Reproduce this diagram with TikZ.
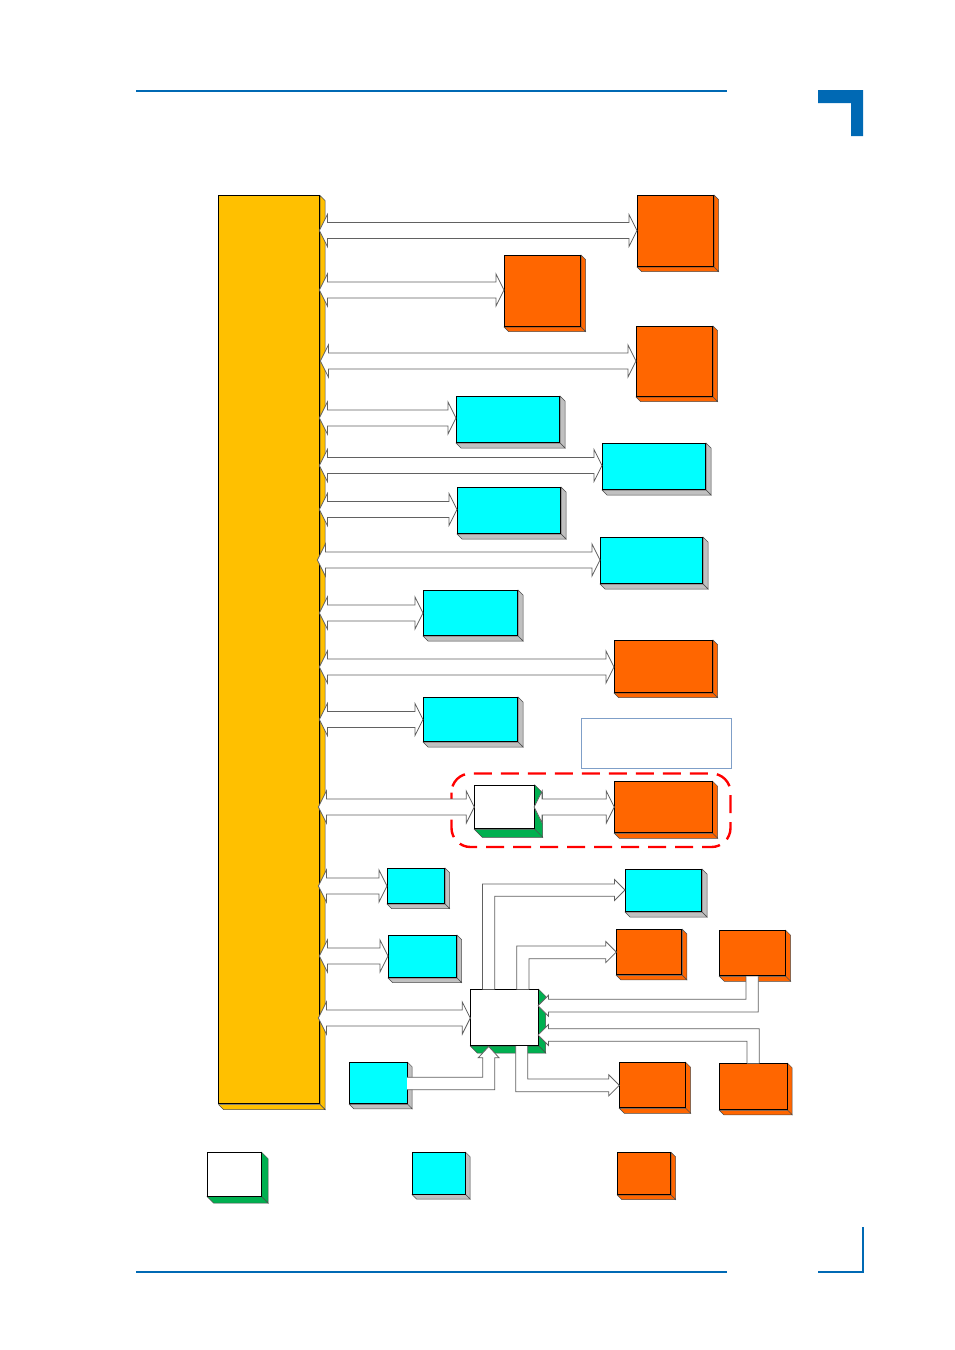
\documentclass[tikz,border=0pt]{standalone}
\usetikzlibrary{calc}
\definecolor{rulec}{HTML}{0069B4}
\definecolor{gold}{HTML}{FFC000}
\definecolor{aqua}{HTML}{00FFFF}
\definecolor{orng}{HTML}{FF6600}
\definecolor{grn}{HTML}{00B050}
\definecolor{gry}{HTML}{C0C0C0}
\definecolor{notec}{HTML}{7F9FC8}
\tikzset{
  face/.style={draw=black,line width=0.9pt,inner sep=0pt,outer sep=0pt,anchor=north west},
  shade edge/.style={draw=black!70,line width=0.5pt},
  blockline/.style={draw=black!62,line width=0.8pt,line join=miter},
  rulestyle/.style={draw=rulec,line width=1.5pt},
}
% name, x1,y1,x2,y2, depth, face colour, side colour
\newcommand\cube[8]{%
  \pgfmathsetmacro\cw{#4-(#2)-0.6}\pgfmathsetmacro\ch{#5-(#3)-0.6}%
  \draw[shade edge,fill=#8] (#4,#3) -- ++(#6,#6) -- ($(#4,#5)+(#6,#6)$) -- (#4,#5) -- cycle;
  \draw[shade edge,fill=#8] (#2,#5) -- ++(#6,#6) -- ($(#4,#5)+(#6,#6)$) -- (#4,#5) -- cycle;
  \node[face,fill=#7,minimum width=\cw pt,minimum height=\ch pt] (#1) at (#2,#3) {};
}
% double block arrow between node east (with x offset) and node west at height y
\newcommand\dbl[4]{%
  \coordinate (A) at ($(#1.east |- 0,#3)+(#4,0)$);
  \coordinate (B) at (#2.west |- 0,#3);
  \filldraw[blockline,fill=white] (A) -- ($(A)+(8,-16)$) -- ($(A)+(8,-8)$) -- ($(B)+(-8,-8)$) -- ($(B)+(-8,-16)$) -- (B)
    -- ($(B)+(-8,16)$) -- ($(B)+(-8,8)$) -- ($(A)+(8,8)$) -- ($(A)+(8,16)$) -- cycle;
}
\begin{document}
\begin{tikzpicture}[x=1pt,y=-1pt]
\useasboundingbox (0,0) rectangle (954,1350);
% page furniture
\draw[rulestyle] (136,91) -- (727,91);
\draw[rulestyle] (136,1272) -- (727,1272);
\fill[rulec] (818,90) -- (863,90) -- (863,136) -- (851,136) -- (851,103) -- (818,103) -- cycle;
\draw[rulestyle] (818,1272) -- (863,1272) -- (863,1227);
% boxes
\cube{bus}{218.5}{195.5}{320}{1104.5}{5}{gold}{gold}
\cube{oa}{637}{195}{714}{267}{4.5}{orng}{orng}
\cube{ob}{504}{255}{581}{327}{4.5}{orng}{orng}
\cube{oc}{636}{326}{713}{397}{4.5}{orng}{orng}
\cube{ca}{456}{396}{560}{443}{5}{aqua}{gry}
\cube{cb}{602}{443}{706}{490}{5}{aqua}{gry}
\cube{cc}{457}{487}{561}{534}{5}{aqua}{gry}
\cube{cd}{600}{537}{703}{584}{5}{aqua}{gry}
\cube{ce}{423}{590}{518}{636}{5}{aqua}{gry}
\cube{od}{614}{640}{713}{693}{4.5}{orng}{orng}
\cube{cf}{423}{697}{518}{742}{5}{aqua}{gry}
\cube{wa}{474.3}{785}{534.7}{829.3}{8}{white}{grn}
\cube{oe}{614.3}{781.3}{712.7}{833.3}{5}{orng}{orng}
\cube{cg}{387}{868}{445}{904}{4.5}{aqua}{gry}
\cube{ch}{388}{935}{457}{978}{4.5}{aqua}{gry}
\cube{ci}{625}{869}{702}{912}{5}{aqua}{gry}
\cube{of}{616.3}{929.3}{682.3}{975.3}{4.5}{orng}{orng}
\cube{og}{719.3}{930.3}{785.7}{976.3}{5}{orng}{orng}
\cube{oh}{619.3}{1062.3}{685.7}{1108.3}{5}{orng}{orng}
\cube{oi}{719.3}{1063.3}{787.7}{1110.3}{4.5}{orng}{orng}
\cube{cj}{349.3}{1062.3}{407.7}{1104.3}{4.5}{aqua}{gry}
\cube{hub}{470.3}{989.3}{538.7}{1046}{7}{white}{grn}
\cube{lw}{207.3}{1152.3}{261.7}{1196.7}{6.5}{white}{grn}
\cube{lc}{412.3}{1152.3}{465.7}{1194.7}{4.5}{aqua}{gry}
\cube{lo}{617.3}{1152.3}{671}{1195}{4.5}{orng}{orng}
% note and group outline
\node[draw=notec,line width=0.8pt,fill=white,minimum width=150pt,minimum height=50pt,inner sep=0pt,anchor=north west] (note) at (581,718) {};
\draw[red,line width=2.4pt,dash pattern=on 18pt off 9pt,rounded corners=19pt] (451.5,773.5) rectangle (730.5,847);
% bus arrows
\dbl{bus}{oa}{230.5}{0}
\dbl{bus}{ob}{290}{0}
\dbl{bus}{oc}{361}{1}
\dbl{bus}{ca}{418}{0}
\dbl{bus}{cb}{465.5}{0}
\dbl{bus}{cc}{509.5}{0}
\dbl{bus}{cd}{560}{-2}
\dbl{bus}{ce}{613}{0}
\dbl{bus}{od}{667}{0}
\dbl{bus}{cf}{719.5}{0}
\dbl{bus}{wa}{807}{-1}
\dbl{wa}{oe}{807}{0}
\dbl{bus}{cg}{886}{-1}
\dbl{bus}{ch}{956}{0}
\dbl{bus}{hub}{1018}{-1}
% hub to aqua box
\coordinate (t) at (ci.west |- 0,890);
\filldraw[blockline,fill=white] (482.5,989.3) -- (482.5,884) -- ($(t)+(-10.5,-6)$) -- ($(t)+(-10.5,-10.5)$) -- (t) -- ($(t)+(-10.5,10.5)$) -- ($(t)+(-10.5,6.3)$) -- (494.7,896.3) -- (494.7,989.3);
% hub to orange above
\coordinate (t) at (of.west |- 0,952);
\filldraw[blockline,fill=white] (516.7,989.3) -- (516.7,946) -- ($(t)+(-10.5,-6)$) -- ($(t)+(-10.5,-10.5)$) -- (t) -- ($(t)+(-10.5,10.5)$) -- ($(t)+(-10.5,6.7)$) -- (529,958.7) -- (529,989.3);
% hub to orange below
\coordinate (t) at (oh.west |- 0,1085.3);
\filldraw[blockline,fill=white] (515.7,1046) -- (515.7,1091.7) -- ($(t)+(-10.5,6.4)$) -- ($(t)+(-10.5,10.5)$) -- (t) -- ($(t)+(-10.5,-10.5)$) -- ($(t)+(-10.5,-6.3)$) -- (527.7,1079) -- (527.7,1046);
% aqua box up to hub
\coordinate (t) at (488.7,1046.5);
\filldraw[blockline,fill=white] (cj.east |- 0,1077.3) -- (482.7,1077.3) -- (482.7,1057.7) -- (478.3,1057.7) -- (t) -- (499,1057.7) -- (494.7,1057.7) -- (494.7,1089.7) -- (cj.east |- 0,1089.7);
% orange right top to hub
\coordinate (t) at (hub.east |- 0,1005.7);
\filldraw[blockline,fill=white] (746,976.3) -- (746,999.3) -- (548.5,999.3) -- (548.5,995.2) -- (t) -- (548.5,1016.2) -- (548.5,1012) -- (758.3,1012) -- (758.3,976.3);
% orange right bottom to hub
\coordinate (t) at (hub.east |- 0,1035);
\filldraw[blockline,fill=white] (747,1063.3) -- (747,1041.3) -- (548.5,1041.3) -- (548.5,1045.5) -- (t) -- (548.5,1024.5) -- (548.5,1028.7) -- (759.3,1028.7) -- (759.3,1063.3);
\end{tikzpicture}
\end{document}
